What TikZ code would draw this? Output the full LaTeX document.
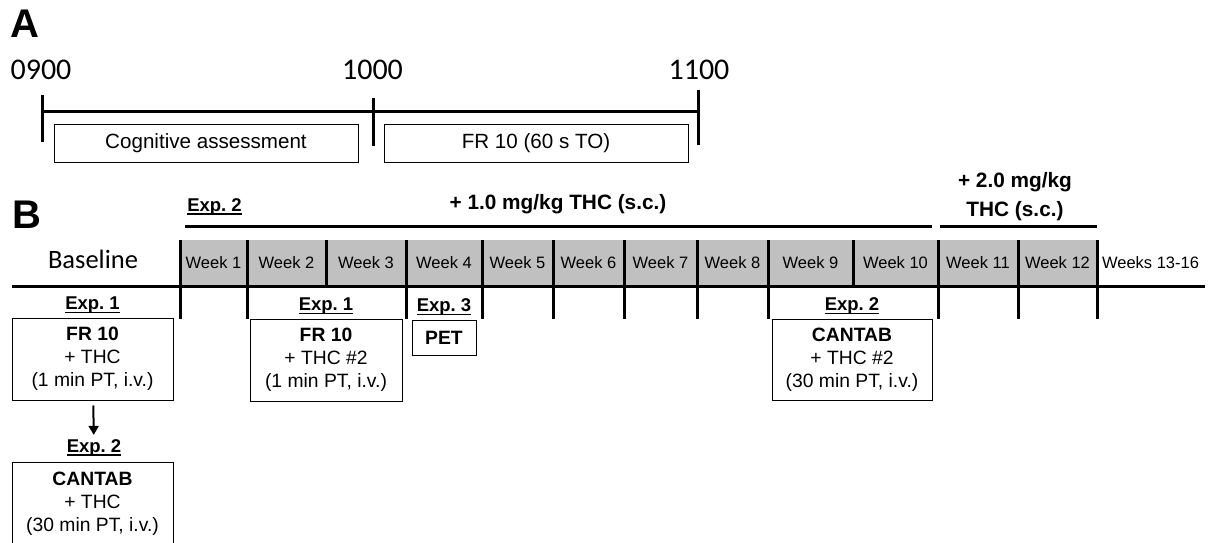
\documentclass[tikz,border=0pt]{standalone}
\usepackage{fontspec}
\setmainfont{Liberation Sans}
\newfontfamily\calib{Carlito}
\usetikzlibrary{arrows.meta, positioning}
\definecolor{ink}{HTML}{000000}
\definecolor{band}{HTML}{C0C0C0}
\newsavebox\expbox
\newcommand{\expu}[1]{\sbox\expbox{Exp.~#1}\vtop{\copy\expbox\kern-\dp\expbox\kern2pt\hrule height 1.8pt width \wd\expbox}}
\tikzset{
  panel/.style={font=\bfseries\fontsize{40}{40}\selectfont, inner sep=0pt, anchor=base west},
  hour/.style={font=\calib\fontsize{30}{30}\selectfont, inner sep=0pt, anchor=base},
  bar/.style={line width=3pt, draw=ink},
  sbox/.style={rectangle, draw=ink, line width=1pt, minimum width=304pt, minimum height=38pt,
               font=\fontsize{20.6}{24}\selectfont},
  wk/.style={font=\fontsize{16.5}{20}\selectfont, inner sep=0pt, anchor=base},
  explbl/.style={font=\bfseries\fontsize{18.5}{20}\selectfont, inner sep=0pt},
  dose/.style={font=\bfseries\fontsize{20.8}{28.5}\selectfont, inner sep=0pt, align=center},
  tbox/.style={rectangle, draw=ink, line width=1pt, align=center, inner sep=0pt,
               font=\fontsize{19.3}{23}\selectfont},
  fl/.style={-{Triangle[length=9pt, width=10pt]}, line width=2pt, draw=ink},
}

\begin{document}
\begin{tikzpicture}[x=1pt, y=-1pt]
  \useasboundingbox (0,0) rectangle (1216,543);
  % A: daily session
  \node[panel] (pa) at (10,38) {A};
  \node[hour] (h9) at (41,80) {0900};
  \node[hour] (h10) at (372.5,80) {1000};
  \node[hour] (h11) at (699,80) {1100};
  \draw[bar] (42,111) -- (698,111);
  \draw[bar] (42,95) -- (42,142);
  \draw[bar] (373,98) -- (373,146);
  \draw[bar] (698,90) -- (698,145);
  \node[sbox] (cog) at (206,143) {Cognitive assessment};
  \node[sbox] (frto) at (536,143) {FR 10 (60 s TO)};

  % B: weeks
  \node[panel] (pb) at (12,228) {B};
  \node[explbl, anchor=base] (x0) at (214.5,211) {\expu{2}};
  \node[dose, anchor=base] (d1) at (558,209.5) {+ 1.0 mg/kg THC (s.c.)};
  \node[dose, anchor=south] (d2) at (1015,221) {+ 2.0 mg/kg\\THC (s.c.)};
  \draw[bar] (185,226) -- (932,226);
  \draw[bar] (940,226) -- (1097,226);

  \fill[band] (180,240) rectangle (1097,285);
  \draw[bar] (12,286) -- (1205,286);
  \foreach \x in {326,853}
    \draw[bar] (\x,240) -- (\x,286);
  \foreach \x in {180,247,406,482,553,624,697,768,938,1018,1097}
    \draw[bar] (\x,240) -- (\x,319);
  \foreach \a/\b [count=\i] in {180/247,247/326,326/406,406/482,482/553,553/624,
                               624/697,697/768,768/853,853/938,938/1018,1018/1097}
    \node[wk] (w\i) at ({(\a+\b)/2},268) {Week \i};
  \node[wk] (wrest) at (1150.5,268) {Weeks 13-16};
  \node[wk, font=\calib\fontsize{26.5}{26.5}\selectfont] (bl) at (93,268) {Baseline};

  % experiments
  \node[tbox, minimum width=161pt, minimum height=82pt] (f1) at (92.5,359)
    {\textbf{FR 10}\\+ THC\\(1 min PT, i.v.)};
  \node[explbl, above=4pt of f1] (x1) {\expu{1}};
  \node[explbl, anchor=base] (x2) at (94,452) {\expu{2}};
  \node[tbox, minimum width=161pt, minimum height=84pt] (c1) at (92.5,504)
    {\textbf{CANTAB}\\+ THC\\(30 min PT, i.v.)};
  \draw[fl, shorten <=5pt, shorten >=4pt] (f1) -- (x2);

  \node[tbox, minimum width=152pt, minimum height=82pt] (f2) at (326,360)
    {\textbf{FR 10}\\+ THC \#2\\(1 min PT, i.v.)};
  \node[explbl, above=4pt of f2] (x3) {\expu{1}};
  \node[tbox, minimum width=64pt, minimum height=35pt, font=\bfseries\fontsize{19.3}{23}\selectfont]
    (pet) at (444,337.5) {PET};
  \node[explbl, above=4pt of pet] (x4) {\expu{3}};
  \node[tbox, minimum width=160pt, minimum height=81pt] (c2) at (852,359.5)
    {\textbf{CANTAB}\\+ THC \#2\\(30 min PT, i.v.)};
  \node[explbl, above=4pt of c2] (x5) {\expu{2}};
\end{tikzpicture}
\end{document}
